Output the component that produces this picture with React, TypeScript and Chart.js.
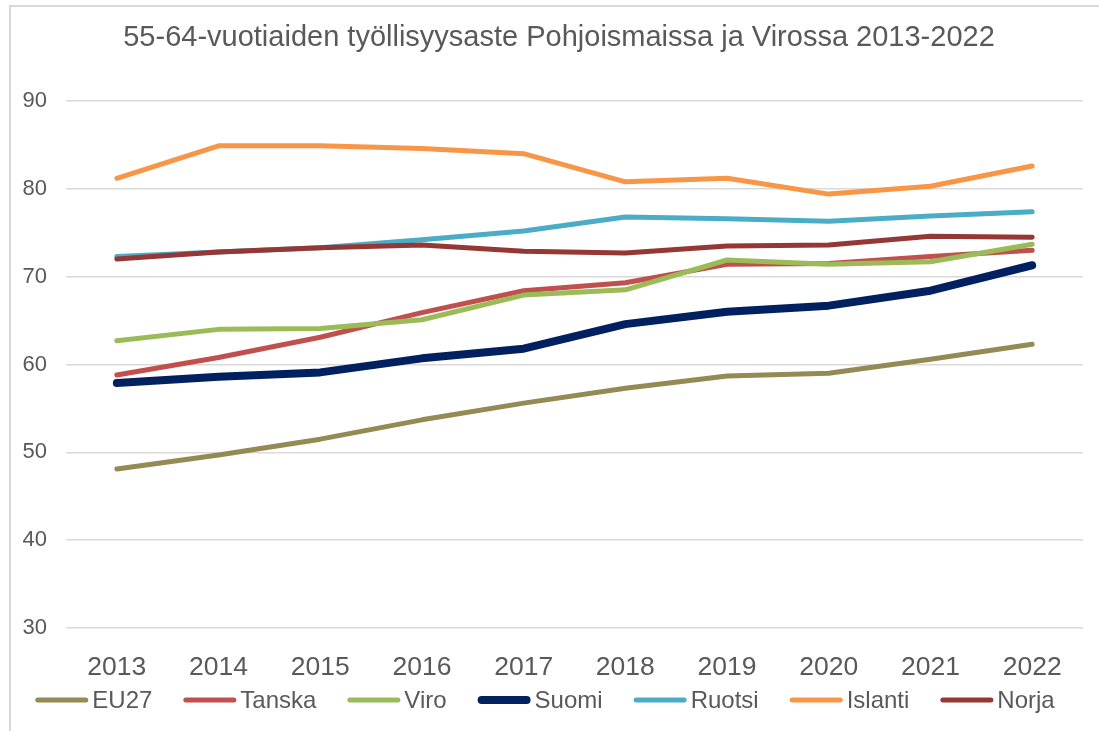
import React, { useEffect, useRef } from "react";
import { Chart, registerables } from "chart.js";

Chart.register(...registerables);

const TITLE = "55-64-vuotiaiden työllisyysaste Pohjoismaissa ja Virossa 2013-2022";
const years = ["2013", "2014", "2015", "2016", "2017", "2018", "2019", "2020", "2021", "2022"];

const eu27 = [48.1, 49.7, 51.5, 53.7, 55.6, 57.3, 58.7, 59.0, 60.6, 62.3];
const tanska = [58.8, 60.8, 63.1, 65.9, 68.4, 69.3, 71.4, 71.5, 72.3, 73.0];
const viro = [62.7, 64.0, 64.1, 65.1, 67.9, 68.5, 71.9, 71.4, 71.7, 73.7];
const suomi = [57.9, 58.6, 59.1, 60.7, 61.8, 64.6, 66.0, 66.7, 68.4, 71.3];
const ruotsi = [72.3, 72.8, 73.3, 74.2, 75.2, 76.8, 76.6, 76.3, 76.9, 77.4];
const islanti = [81.2, 84.9, 84.9, 84.6, 84.0, 80.8, 81.2, 79.4, 80.3, 82.6];
const norja = [72.0, 72.8, 73.3, 73.6, 72.9, 72.7, 73.5, 73.6, 74.6, 74.5];

const seriesNames = ["EU27", "Tanska", "Viro", "Suomi", "Ruotsi", "Islanti", "Norja"];
const seriesValues = [eu27, tanska, viro, suomi, ruotsi, islanti, norja];
const seriesColors = ["#948A54", "#C0504D", "#9BBB59", "#002060", "#4BACC6", "#F79646", "#953735"];
const seriesWidths = [5, 5, 5, 8, 5, 5, 5];

const yTicks = [30, 40, 50, 60, 70, 80, 90];

const FONT = '"Liberation Sans", Arial, Helvetica, sans-serif';
const TEXT = "#595959";

const titlePlugin = {
  id: "customTitle",
  afterDraw(chart: any) {
    const ctx = chart.ctx as CanvasRenderingContext2D;
    ctx.save();
    ctx.font = `29px ${FONT}`;
    ctx.fillStyle = TEXT;
    ctx.textAlign = "center";
    ctx.textBaseline = "middle";
    ctx.fillText(TITLE, 559, 38);
    ctx.restore();
  },
};

const legendPlugin = {
  id: "customLegend",
  afterDraw(chart: any) {
    const ctx = chart.ctx as CanvasRenderingContext2D;
    ctx.save();
    ctx.font = `24px ${FONT}`;
    const sampleLen = 53;
    const gap = 4;
    const spacing = 31;
    const items = chart.data.datasets.map((ds: any) => ({
      label: ds.label,
      color: ds.borderColor,
      w: ds.borderWidth,
      tw: ctx.measureText(ds.label).width,
    }));
    let total = 0;
    items.forEach((it: any, i: number) => {
      total += sampleLen + gap + it.tw + (i < items.length - 1 ? spacing : 0);
    });
    let x = 545 - total / 2;
    const y = 700;
    items.forEach((it: any) => {
      ctx.beginPath();
      ctx.lineCap = "round";
      ctx.lineWidth = it.w;
      ctx.strokeStyle = it.color;
      ctx.moveTo(x + it.w / 2, y);
      ctx.lineTo(x + sampleLen - it.w / 2, y);
      ctx.stroke();
      ctx.fillStyle = TEXT;
      ctx.textBaseline = "middle";
      ctx.textAlign = "left";
      ctx.fillText(it.label, x + sampleLen + gap, y + 1);
      x += sampleLen + gap + it.tw + spacing;
    });
    ctx.restore();
  },
};

export default function App() {
  const ref = useRef<HTMLCanvasElement | null>(null);

  useEffect(() => {
    if (!ref.current) return;
    const chart = new Chart(ref.current, {
      type: "line",
      data: {
        labels: years,
        datasets: seriesNames.map((name, i) => ({
          label: name,
          data: seriesValues[i],
          borderColor: seriesColors[i],
          backgroundColor: seriesColors[i],
          borderWidth: seriesWidths[i],
          borderCapStyle: "round" as const,
          borderJoinStyle: "round" as const,
          pointRadius: 0,
          pointHoverRadius: 0,
          tension: 0,
          fill: false,
          order: -i,
        })),
      },
      options: {
        animation: false,
        responsive: false,
        maintainAspectRatio: false,
        events: [],
        layout: { padding: { left: 0, right: 16, top: 101, bottom: 51 } },
        plugins: {
          legend: { display: false },
          tooltip: { enabled: false },
          title: { display: false },
        },
        scales: {
          x: {
            offset: true,
            grid: { display: false },
            border: { display: false },
            ticks: {
              color: TEXT,
              font: { family: FONT, size: 26.5 },
              padding: 16,
              maxRotation: 0,
            },
            afterFit: (scale: any) => {
              scale.height = 52;
            },
          },
          y: {
            min: 30,
            max: 90,
            afterBuildTicks: (scale: any) => {
              scale.ticks = yTicks.map((v) => ({ value: v }));
            },
            grid: { color: "#d9d9d9", lineWidth: 1.5, drawTicks: false },
            border: { display: false },
            ticks: {
              color: TEXT,
              font: { family: FONT, size: 22 },
              padding: 19,
            },
            afterFit: (scale: any) => {
              scale.width = 66;
            },
          },
        },
      },
      plugins: [titlePlugin, legendPlugin],
    });
    return () => chart.destroy();
  }, []);

  return (
    <div
      style={{
        position: "fixed",
        left: 0,
        top: 0,
        width: 1099,
        height: 731,
        overflow: "hidden",
        background: "#ffffff",
      }}
    >
      <div
        style={{
          position: "absolute",
          left: 9,
          top: 5,
          width: 1300,
          height: 1000,
          border: "2px solid #d9d9d9",
          boxSizing: "border-box",
        }}
      />
      <canvas
        ref={ref}
        width={1099}
        height={731}
        style={{ position: "absolute", left: 0, top: 0, width: 1099, height: 731 }}
      />
    </div>
  );
}
